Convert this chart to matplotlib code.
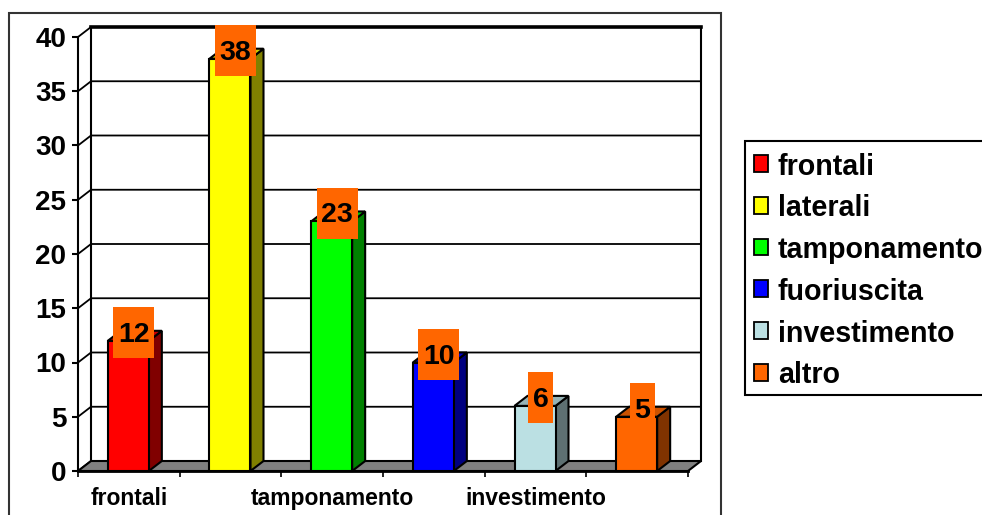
import matplotlib
matplotlib.use('Agg')
import matplotlib.pyplot as plt
from matplotlib.patches import Polygon, Rectangle, Patch
from matplotlib.colors import to_rgb

plt.rcParams['font.family'] = ['Liberation Sans', 'DejaVu Sans']
plt.rcParams['font.weight'] = 'bold'

categories = ['frontali', 'laterali', 'tamponamento', 'fuoriuscita', 'investimento', 'altro']
values = [12, 38, 23, 10, 6, 5]
colors = ['#FF0000', '#FFFF00', '#00FF00', '#0000FF', '#BBE0E3', '#FF6600']
y_ticks = [0, 5, 10, 15, 20, 25, 30, 35, 40]
x_labels = ['frontali', '', 'tamponamento', '', 'investimento', '']

W, H = 982, 515
left, right, top, bottom = 78, 688, 37, 471

fig = plt.figure(figsize=(W / 100, H / 100), dpi=100)
ax = fig.add_axes([left / W, 1 - bottom / H, (right - left) / W, (bottom - top) / H])
ax.set_xlim(0, len(categories))
ax.set_ylim(0, 40)
ax.patch.set_visible(False)

# size of one pixel in data units, and the fake 3d depth
px = len(categories) / (right - left)
py = 40 / (bottom - top)
dx = 13 * px
dy = 10 * py
bar_w = 41 * px
lw = 1.5


def shade(c, f):
    return tuple(v * f for v in to_rgb(c))


# outer chart frame, runs off the bottom of the picture
fig.add_artist(Rectangle((9 / W, -0.05), 712 / W, 1.05 - 13 / H, transform=fig.transFigure,
                         fill=False, ec='#333333', lw=1.5))

# back wall and grid
n = len(categories)
for v in y_ticks:
    ax.plot([0, dx, n + dx], [v, v + dy, v + dy], color='black', lw=1.3, clip_on=False, zorder=1)
ax.plot([dx, n + dx], [40 + dy, 40 + dy], color='black', lw=2.6, clip_on=False, zorder=1.2)
ax.plot([dx, dx], [dy, 40 + dy], color='black', lw=lw, clip_on=False, zorder=1.2)
ax.plot([n + dx, n + dx], [dy, 40 + dy], color='black', lw=lw, clip_on=False, zorder=1.2)

# floor
ax.add_patch(Polygon([(0, 0), (dx, dy), (n + dx, dy), (n, 0)], fc='#808080', ec='black',
                     lw=lw, clip_on=False, zorder=1.5))

# bars
offset = (1 - bar_w) / 2 - 0.5 * px
for i, (val, c) in enumerate(zip(values, colors)):
    x0 = i + offset
    x1 = x0 + bar_w
    ax.add_patch(Polygon([(x1, 0), (x1 + dx, dy), (x1 + dx, val + dy), (x1, val)],
                         fc=shade(c, 0.5), ec='black', lw=lw, clip_on=False, zorder=3))
    ax.add_patch(Polygon([(x0, val), (x0 + dx, val + dy), (x1 + dx, val + dy), (x1, val)],
                         fc=shade(c, 0.8), ec='black', lw=lw, clip_on=False, zorder=3))
    ax.add_patch(Rectangle((x0, 0), bar_w, val, fc=c, ec='black', lw=lw, clip_on=False, zorder=3))

# value labels on orange boxes
for i, val in enumerate(values):
    xc = i + offset + bar_w / 2 + 5.5 * px
    yc = val + 8 * py
    box_w = (41 if val >= 10 else 25) * px
    box_h = 51 * py
    ax.add_patch(Rectangle((xc - box_w / 2, yc - box_h / 2), box_w, box_h, fc='#FF6600', ec='none',
                           clip_on=False, zorder=4))
    ax.text(xc, yc - 2 * py, str(val), ha='center', va='center', fontsize=20.5, fontweight='bold',
            color='black', zorder=5)

# axes
for s in ['top', 'right']:
    ax.spines[s].set_visible(False)
ax.spines['left'].set_linewidth(lw)
ax.spines['bottom'].set_linewidth(2)
ax.set_yticks(y_ticks)
ax.tick_params(axis='y', length=4.5, width=lw, pad=4, labelsize=20)
ax.set_xticks(range(n + 1))
ax.set_xticklabels([])
ax.tick_params(axis='x', which='major', length=4.5, width=1.2)
ax.set_xticks([i + 0.5 for i in range(n)], labels=x_labels, minor=True)
ax.tick_params(axis='x', which='minor', length=0, pad=11.5, labelsize=16.5)

# legend
handles = [Patch(fc=c, ec='black', lw=1.3, label=l) for c, l in zip(colors, categories)]
leg = fig.legend(handles=handles, loc='upper left', bbox_to_anchor=(745 / W, 1 - 141 / H),
                 fontsize=20.6, frameon=True, fancybox=False, edgecolor='black', framealpha=1,
                 handlelength=0.49, handleheight=0.52, handletextpad=0.36, labelspacing=0.48,
                 borderpad=0.3, borderaxespad=0)
leg.get_frame().set_linewidth(1.5)
# nudge the rows down inside the frame
for t in leg.get_texts():
    t.set_y(-3)
for h in leg.legend_handles:
    h.set_y(h.get_y() - 1.5)

plt.savefig('out.png', dpi=100)
